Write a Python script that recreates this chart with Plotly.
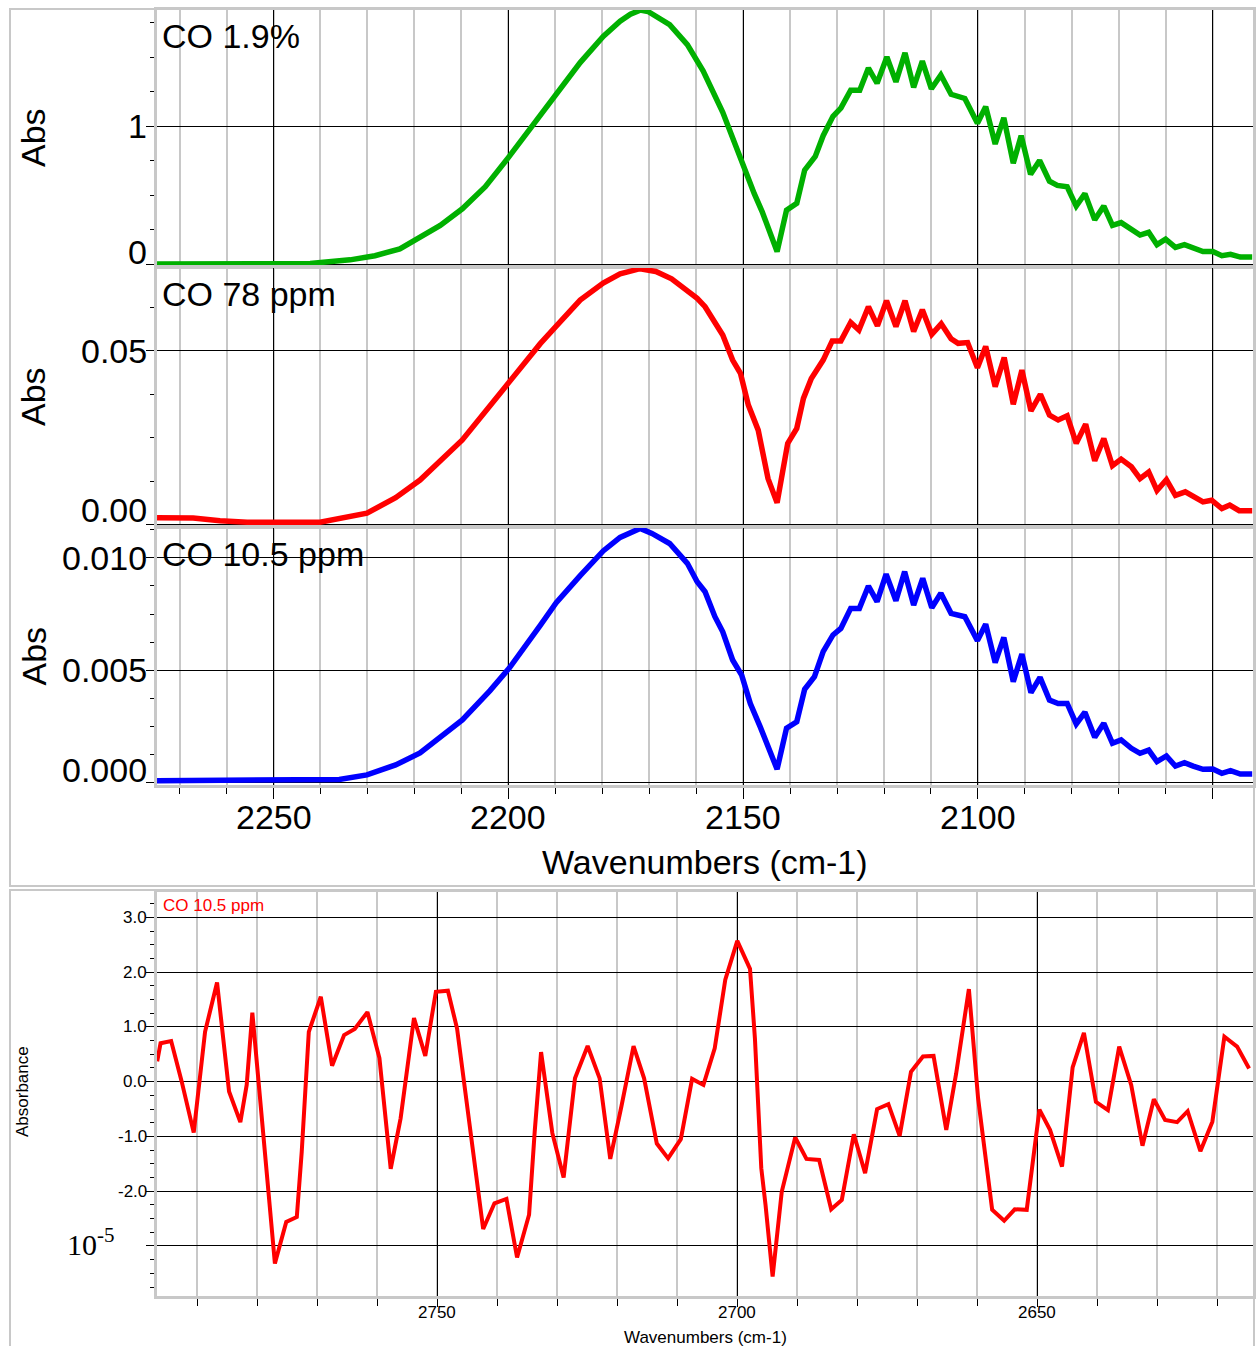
import plotly.graph_objects as go

# ---------------- data ----------------
# CO 1.9 % (green)
wn_g = [2274.8, 2261.4, 2250.0, 2242.2, 2233.7, 2228.4, 2223.1, 2219.0, 2214.5, 2209.8, 2204.9,
        2199.8, 2195.4, 2189.8, 2184.7, 2179.8, 2176.2, 2174.0,
        2171.94, 2170.26, 2165.65, 2161.88, 2158.53, 2154.34, 2151.82, 2149.98, 2147.63, 2145.96,
        2142.77, 2140.76, 2138.58, 2136.90, 2134.64, 2132.96, 2130.87, 2129.19, 2127.10, 2125.17,
        2123.32, 2121.48, 2119.39, 2117.46, 2115.53, 2113.69, 2111.84, 2109.91, 2107.90, 2105.72,
        2102.79, 2100.11, 2098.35, 2096.33, 2094.49, 2092.48, 2090.80, 2088.79, 2086.87, 2084.77,
        2083.09, 2081.00, 2079.07, 2077.22, 2075.13, 2073.20, 2071.36, 2069.51, 2067.33, 2065.49,
        2063.64, 2061.88, 2060.04, 2057.95, 2056.02, 2054.17, 2052.08, 2049.98, 2048.06, 2046.21,
        2044.12, 2041.60]
abs_g = [0.0, 0.0, 0.0, 0.004, 0.03, 0.06, 0.11, 0.19, 0.28, 0.40, 0.56,
         0.78, 0.98, 1.24, 1.46, 1.65, 1.76, 1.81,
         1.84, 1.83, 1.735, 1.59, 1.40, 1.10, 0.87, 0.73, 0.51, 0.38,
         0.09, 0.39, 0.44, 0.68, 0.78, 0.93, 1.07, 1.13, 1.26, 1.26,
         1.42, 1.31, 1.50, 1.32, 1.53, 1.28, 1.47, 1.27, 1.37, 1.23,
         1.20, 1.02, 1.14, 0.87, 1.06, 0.73, 0.93, 0.65, 0.75, 0.60,
         0.57, 0.56, 0.42, 0.51, 0.32, 0.42, 0.28, 0.30, 0.25, 0.21,
         0.23, 0.14, 0.18, 0.12, 0.14, 0.12, 0.09, 0.09, 0.06, 0.07,
         0.05, 0.05]

# CO 78 ppm (red)
wn_r = [2274.8, 2267.1, 2261.4, 2255.6, 2240.1, 2230.1, 2224.0, 2218.8, 2209.8, 2203.9, 2199.8,
        2193.2, 2189.8, 2184.7, 2179.8, 2176.2,
        2171.94, 2168.59, 2165.23, 2161.88, 2159.79, 2158.11, 2156.43, 2154.34, 2152.24, 2150.57,
        2148.89, 2146.79, 2144.70, 2142.77, 2140.51, 2138.58, 2137.16, 2135.48, 2132.96, 2131.03,
        2129.19, 2127.10, 2125.34, 2123.32, 2121.40, 2119.47, 2117.46, 2115.53, 2113.69, 2111.84,
        2109.83, 2107.82, 2105.72, 2104.21, 2102.20, 2100.11, 2098.35, 2096.33, 2094.41, 2092.48,
        2090.64, 2088.71, 2086.70, 2084.77, 2082.92, 2081.00, 2079.07, 2077.06, 2075.13, 2073.20,
        2071.36, 2069.51, 2067.33, 2065.49, 2063.64, 2061.88, 2059.87, 2057.95, 2055.85, 2053.92,
        2052.08, 2050.24, 2048.06, 2046.38, 2044.37, 2041.60]
abs_r = [0.0021, 0.0020, 0.0012, 0.0008, 0.0008, 0.0034, 0.0078, 0.0129, 0.0244, 0.0344, 0.0410,
         0.0520, 0.0570, 0.0645, 0.0694, 0.0720,
         0.0735, 0.0727, 0.0706, 0.0674, 0.0650, 0.0626, 0.0588, 0.0545, 0.0473, 0.0435,
         0.0344, 0.0272, 0.0133, 0.0064, 0.0234, 0.0277, 0.0363, 0.0420, 0.0473, 0.0528,
         0.0528, 0.0581, 0.0559, 0.0626, 0.0571, 0.0643, 0.0569, 0.0643, 0.0555, 0.0617,
         0.0547, 0.0577, 0.0534, 0.0521, 0.0523, 0.0451, 0.0512, 0.0397, 0.0480, 0.0346,
         0.0444, 0.0327, 0.0375, 0.0315, 0.0301, 0.0313, 0.0234, 0.0289, 0.0184, 0.0248,
         0.0170, 0.0189, 0.0167, 0.0133, 0.0152, 0.0099, 0.0130, 0.0085, 0.0095, 0.0080,
         0.0066, 0.0071, 0.0047, 0.0057, 0.0041, 0.0041]

# CO 10.5 ppm (blue)
wn_b = [2274.8, 2250.0, 2242.2, 2236.0, 2230.1, 2224.0, 2218.8, 2209.8, 2203.9, 2199.8,
        2193.2, 2189.8, 2184.7, 2179.8, 2176.2,
        2171.94, 2169.43, 2165.65, 2161.88, 2159.79, 2158.11, 2156.01, 2154.34, 2152.24, 2150.31,
        2148.47, 2146.38, 2144.70, 2142.77, 2140.76, 2138.58, 2136.90, 2134.81, 2132.96, 2130.87,
        2129.19, 2127.10, 2125.25, 2123.32, 2121.48, 2119.55, 2117.46, 2115.61, 2113.69, 2111.76,
        2109.83, 2107.90, 2105.72, 2102.79, 2100.11, 2098.35, 2096.33, 2094.49, 2092.48, 2090.64,
        2088.71, 2086.78, 2084.77, 2082.92, 2081.00, 2079.07, 2077.22, 2075.13, 2073.20, 2071.36,
        2069.51, 2067.33, 2065.49, 2063.64, 2061.88, 2059.87, 2057.95, 2056.02, 2054.17, 2052.08,
        2049.98, 2048.06, 2046.21, 2044.12, 2041.60]
abs_b = [0.0001, 0.0001, 0.0001, 0.00016, 0.00036, 0.0008, 0.00133, 0.0028, 0.0041, 0.0051,
         0.0070, 0.0080, 0.0092, 0.0103, 0.0109,
         0.01130, 0.01108, 0.01063, 0.00975, 0.00893, 0.00849, 0.00738, 0.00671, 0.00546, 0.00479,
         0.00353, 0.00250, 0.00154, 0.00061, 0.00243, 0.00272, 0.00416, 0.00472, 0.00583, 0.00657,
         0.00686, 0.00775, 0.00775, 0.00874, 0.00805, 0.00927, 0.00809, 0.00938, 0.00790, 0.00908,
         0.00778, 0.00842, 0.00753, 0.00738, 0.00632, 0.00705, 0.00534, 0.00646, 0.00450, 0.00572,
         0.00401, 0.00469, 0.00368, 0.00353, 0.00353, 0.00262, 0.00314, 0.00203, 0.00265, 0.00176,
         0.00191, 0.00154, 0.00132, 0.00146, 0.00095, 0.00120, 0.00075, 0.00090, 0.00075, 0.00061,
         0.00062, 0.00043, 0.00055, 0.00040, 0.00040]

# bottom: CO 10.5 ppm, 2800-2610 cm-1 region (units of 1e-5)
wn_n = [2796.7, 2796.14, 2794.37, 2792.61, 2790.61, 2788.72, 2786.72, 2784.72, 2782.84, 2781.78,
        2780.84, 2779.31, 2778.13, 2777.08, 2775.19, 2773.43, 2772.61, 2771.43, 2769.43, 2767.55,
        2765.55, 2763.78, 2761.66, 2759.66, 2757.78, 2756.13, 2753.90, 2752.02, 2750.25, 2748.25,
        2746.72, 2745.19, 2743.78, 2742.37, 2740.49, 2738.49, 2736.72, 2734.72, 2733.78, 2732.72,
        2730.84, 2728.96, 2727.07, 2724.96, 2722.96, 2721.19, 2719.31, 2717.31, 2715.55, 2713.43,
        2711.55, 2709.43, 2707.55, 2705.66, 2703.78, 2702.02, 2700.02, 2697.90, 2697.08, 2696.02,
        2695.31, 2694.13, 2692.61, 2690.37, 2688.49, 2686.37, 2684.37, 2682.60, 2680.60, 2678.72,
        2676.72, 2674.84, 2672.96, 2671.07, 2669.07, 2667.31, 2665.19, 2663.54, 2661.42, 2659.89,
        2657.54, 2655.54, 2653.78, 2651.78, 2649.66, 2647.90, 2645.90, 2644.13, 2642.25, 2640.25,
        2638.25, 2636.37, 2634.37, 2632.49, 2630.60, 2628.72, 2626.72, 2624.96, 2622.84, 2620.84,
        2618.84, 2616.72, 2614.72]
abs_n = [0.37, 0.70, 0.74, 0.0, -0.93, 0.91, 1.81, -0.18, -0.74, -0.06,
         1.26, -0.67, -2.19, -3.32, -2.56, -2.47, -1.28, 0.91, 1.55, 0.29,
         0.85, 0.96, 1.27, 0.43, -1.59, -0.67, 1.16, 0.47, 1.64, 1.66,
         0.97, -0.30, -1.58, -2.69, -2.22, -2.14, -3.21, -2.43, -0.91, 0.54,
         -0.94, -1.75, 0.06, 0.65, 0.06, -1.41, -0.44, 0.65, 0.06, -1.13,
         -1.40, -1.05, 0.05, -0.06, 0.61, 1.86, 2.57, 2.06, 0.79, -1.58,
         -2.25, -3.56, -2.01, -1.02, -1.41, -1.43, -2.33, -2.16, -0.96, -1.67,
         -0.50, -0.41, -0.99, 0.18, 0.46, 0.47, -0.88, 0.15, 1.69, -0.30,
         -2.34, -2.54, -2.33, -2.34, -0.51, -0.88, -1.55, 0.26, 0.89, -0.37,
         -0.52, 0.64, -0.06, -1.17, -0.32, -0.70, -0.74, -0.54, -1.27, -0.73,
         0.82, 0.64, 0.24]

top_labels = ["CO 1.9%", "CO 78 ppm", "CO 10.5 ppm"]
bottom_label = "CO 10.5 ppm"
top_xticks = [2250, 2200, 2150, 2100, 2050]
top_xlabels = [2250, 2200, 2150, 2100]
bot_xticks = [2750, 2700, 2650]
top_yticks = [[0, 1], [0, 0.05], [0, 0.005, 0.01]]
top_ytext = [["0", "1"], ["0.00", "0.05"], ["0.000", "0.005", "0.010"]]
bot_yticks = [3, 2, 1, 0, -1, -2, -3]
bot_ytext = ["3.0", "2.0", "1.0", "0.0", "-1.0", "-2.0"]

# ---------------- figure ----------------
W, H = 1257, 1346
FONT = "Liberation Sans"
GRAY = "#c8c8c8"


def px_y(p):
    return 1 - p / H


def px_x(p):
    return p / W


fig = go.Figure()
fig.add_trace(go.Scatter(x=wn_g, y=abs_g, mode="lines", line=dict(color="#00b000", width=5.5),
                         xaxis="x", yaxis="y", showlegend=False))
fig.add_trace(go.Scatter(x=wn_r, y=abs_r, mode="lines", line=dict(color="#ff0000", width=5.5),
                         xaxis="x2", yaxis="y2", showlegend=False))
fig.add_trace(go.Scatter(x=wn_b, y=abs_b, mode="lines", line=dict(color="#0000ff", width=5.5),
                         xaxis="x3", yaxis="y3", showlegend=False))
fig.add_trace(go.Scatter(x=wn_n, y=abs_n, mode="lines", line=dict(color="#ff0000", width=4),
                         xaxis="x4", yaxis="y4", showlegend=False))

xdom = [px_x(157), px_x(1253)]
top_range = [2274.81, 2041.43]
panels = [(10, 266), (268, 526), (528, 785)]


def top_x(anchor, show):
    d = dict(domain=xdom, range=top_range, autorange=False, anchor=anchor,
             tickmode="array", tickvals=top_xticks, showticklabels=False,
             showgrid=True, gridcolor="black", gridwidth=1, zeroline=False,
             showline=True, linecolor=GRAY, linewidth=3, mirror=True,
             minor=dict(tick0=2000, dtick=10, showgrid=True, gridcolor=GRAY, gridwidth=1.5),
             automargin=False)
    if show:
        d.update(ticks="outside", ticklen=11, tickcolor="black", tickwidth=1)
        d["minor"].update(ticks="outside", ticklen=6, tickcolor="black", tickwidth=1)
    else:
        d.update(ticks="")
    return d


def left_y(anchor, dom, rng, vals, mdt):
    return dict(domain=[px_y(dom[1]), px_y(dom[0])], range=rng, autorange=False, anchor=anchor,
                tickmode="array", tickvals=vals, showticklabels=False,
                showgrid=True, gridcolor="black", gridwidth=1, zeroline=False,
                showline=True, linecolor=GRAY, linewidth=3, mirror=True,
                ticks="outside", ticklen=8, tickcolor="black", tickwidth=1,
                minor=dict(tick0=0, dtick=mdt, ticks="outside", ticklen=4, tickcolor="black",
                           showgrid=False),
                automargin=False)


layout = dict(
    width=W, height=H, margin=dict(l=0, r=0, t=0, b=0, pad=0),
    paper_bgcolor="white", plot_bgcolor="white", showlegend=False,
    xaxis=top_x("y", False), xaxis2=top_x("y2", False), xaxis3=top_x("y3", True),
    yaxis=left_y("x", panels[0], [-0.0145, 1.841], top_yticks[0], 0.25),
    yaxis2=left_y("x2", panels[1], [-0.00029, 0.0737], top_yticks[1], 0.0125),
    yaxis3=left_y("x3", panels[2], [-0.000089, 0.011318], top_yticks[2], 0.00125),
    xaxis4=dict(domain=xdom, range=[2796.73, 2614.07], autorange=False, anchor="y4",
                tickmode="array", tickvals=bot_xticks, showticklabels=False,
                showgrid=True, gridcolor="black", gridwidth=1, zeroline=False,
                showline=True, linecolor=GRAY, linewidth=3, mirror=True,
                ticks="outside", ticklen=8, tickcolor="black",
                minor=dict(tick0=2600, dtick=10, showgrid=True, gridcolor=GRAY, gridwidth=1.5,
                           ticks="outside", ticklen=7, tickcolor="black"),
                automargin=False),
    yaxis4=dict(domain=[px_y(1296), px_y(892)], range=[-3.913, 3.462], autorange=False,
                anchor="x4", tickmode="array", tickvals=bot_yticks, showticklabels=False,
                showgrid=True, gridcolor="black", gridwidth=1, zeroline=False,
                showline=True, linecolor=GRAY, linewidth=3, mirror=True,
                ticks="outside", ticklen=8, tickcolor="black",
                minor=dict(tick0=0, dtick=0.25, ticks="outside", ticklen=4, tickcolor="black",
                           showgrid=False),
                automargin=False),
)
fig.update_layout(**layout)

BIG = dict(family=FONT, size=34, color="black")
SMALL = dict(family=FONT, size=17, color="black")
ann = []
# panel captions and "Abs" titles
for (top, bot), lab in zip(panels, top_labels):
    ann.append(dict(text=lab, xref="paper", yref="paper", x=px_x(160), y=px_y(top + 26),
                    xanchor="left", yanchor="middle", showarrow=False, font=BIG))
    ann.append(dict(text="Abs", xref="paper", yref="paper", x=px_x(33), y=px_y((top + bot) / 2),
                    xanchor="center", yanchor="middle", textangle=-90, showarrow=False, font=BIG))
# y tick labels of the three upper panels (lowest label lifted inside the panel)
for i, yref in enumerate(["y", "y2", "y3"]):
    for j, (v, t) in enumerate(zip(top_yticks[i], top_ytext[i])):
        sh = [12, 15, 13][i] if j == 0 else 0
        ann.append(dict(text=t, xref="paper", yref=yref, x=px_x(149), y=v, yshift=sh,
                        xanchor="right", yanchor="middle", showarrow=False, font=BIG))
# x tick labels of the upper chart
for v in top_xlabels:
    ann.append(dict(text=str(v), xref="x3", yref="paper", x=v, y=px_y(817),
                    xanchor="center", yanchor="middle", showarrow=False, font=BIG))
ann.append(dict(text="Wavenumbers (cm-1)", xref="paper", yref="paper", x=px_x(705), y=px_y(862),
                xanchor="center", yanchor="middle", showarrow=False, font=BIG))
# bottom chart texts
ann.append(dict(text=bottom_label, xref="paper", yref="paper", x=px_x(161), y=px_y(905),
                xanchor="left", yanchor="middle", showarrow=False,
                font=dict(family=FONT, size=17, color="#ff0000")))
for v, t in zip(bot_yticks, bot_ytext):
    ann.append(dict(text=t, xref="paper", yref="y4", x=px_x(149), y=v,
                    xanchor="right", yanchor="middle", showarrow=False, font=SMALL))
for v in bot_xticks:
    ann.append(dict(text=str(v), xref="x4", yref="paper", x=v, y=px_y(1312),
                    xanchor="center", yanchor="middle", showarrow=False, font=SMALL))
ann.append(dict(text="Absorbance", xref="paper", yref="paper", x=px_x(22), y=px_y(1092),
                xanchor="center", yanchor="middle", textangle=-90, showarrow=False, font=SMALL))
ann.append(dict(text="Wavenumbers (cm-1)", xref="paper", yref="paper", x=px_x(705), y=px_y(1337),
                xanchor="center", yanchor="middle", showarrow=False, font=SMALL))
ann.append(dict(text="10<sup>-5</sup>", xref="paper", yref="y4", x=px_x(117), y=-3, yshift=4,
                xanchor="right", yanchor="middle", showarrow=False,
                font=dict(family="Liberation Serif", size=30, color="black")))
fig.update_layout(annotations=ann)

# outer frames of the two figures
fig.update_layout(shapes=[
    dict(type="rect", xref="paper", yref="paper", x0=px_x(10), x1=px_x(1254),
         y0=px_y(886), y1=px_y(9), line=dict(color=GRAY, width=2), layer="below"),
    dict(type="rect", xref="paper", yref="paper", x0=px_x(10), x1=px_x(1254),
         y0=px_y(1352), y1=px_y(890), line=dict(color=GRAY, width=2), layer="below"),
])

fig.write_html("out.html")
